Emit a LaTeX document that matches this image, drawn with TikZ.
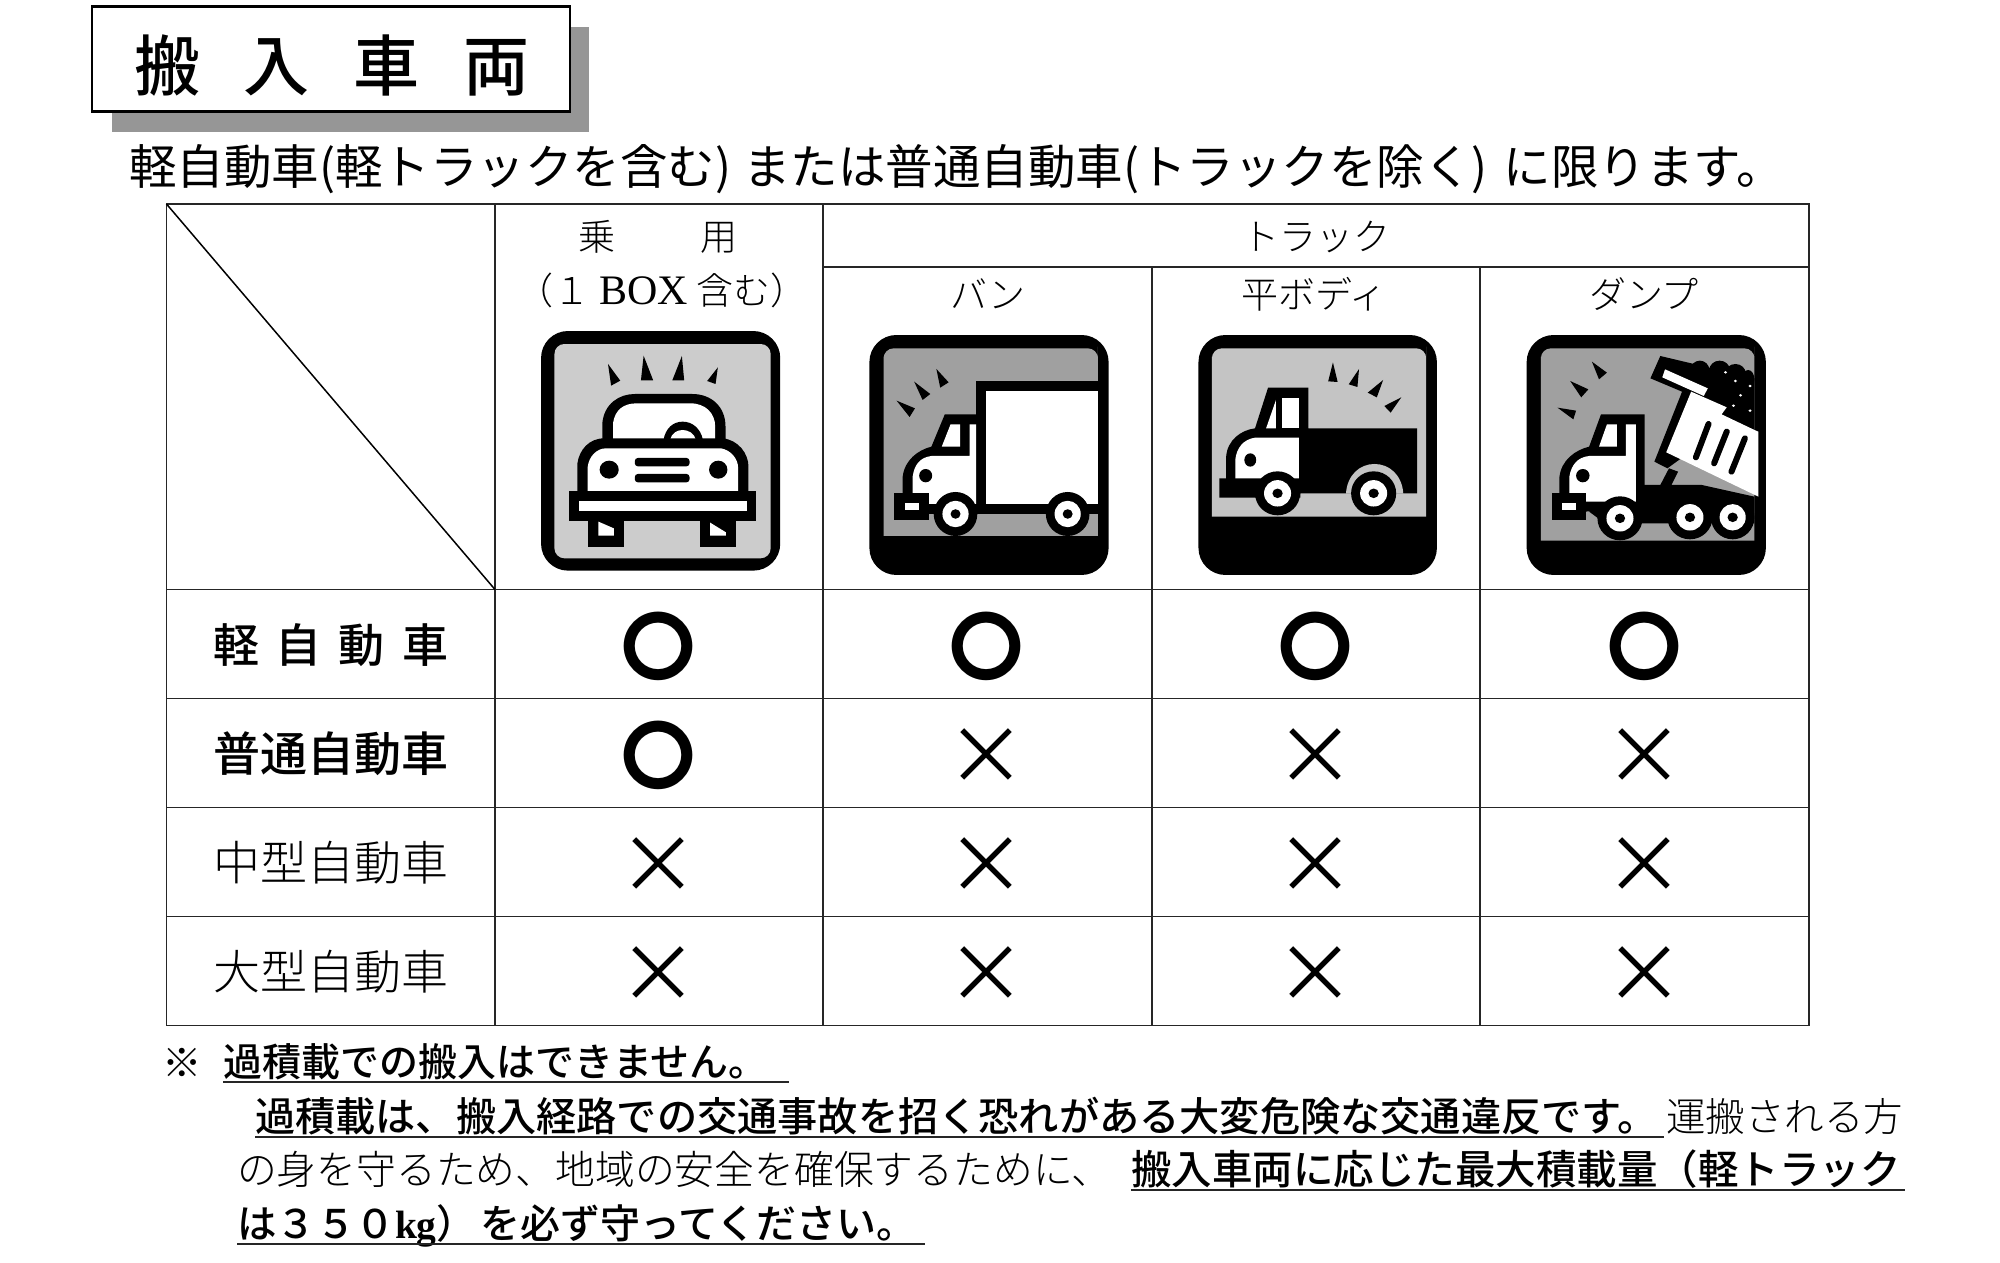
\documentclass[tikz,border=0pt]{standalone}
\usepackage{fontspec}
\newfontfamily\jp{Noto Sans CJK JP}
\newfontfamily\jpm{Noto Sans CJK JP Medium}
\newfontfamily\jpl{Noto Sans CJK JP Light}
\newfontfamily\lsf{Liberation Serif}
\newcommand{\jfs}[1]{\jp\fontsize{#1}{#1}\selectfont}
\newcommand{\jms}[1]{\jpm\fontsize{#1}{#1}\selectfont}
\newcommand{\jls}[1]{\jpl\fontsize{#1}{#1}\selectfont}
\definecolor{shadowgrey}{HTML}{969696}
\definecolor{carbg}{HTML}{CCCCCC}
\definecolor{vanbg}{HTML}{A0A0A0}
\definecolor{pickbg}{HTML}{C4C4C4}
\tikzset{
  txt/.style={inner sep=0pt,outer sep=0pt,anchor=base},
  txtw/.style={inner sep=0pt,outer sep=0pt,anchor=base west},
  gridline/.style={line width=1.8pt,draw=black!85},
  ul/.style={line width=2.4pt,draw=black!85},
  okmark/.style={inner sep=0pt,outer sep=0pt,anchor=center,yshift=-1pt,font=\jfs{74}\bfseries},
  ngmark/.style={inner sep=0pt,outer sep=0pt,anchor=center,yshift=-3pt,font=\jfs{80}},
}
\newcommand{\wheelat}[5]{% x y rx ry hub
  \fill[black] (#1,#2) ellipse [x radius=#3,y radius=#4];
  \fill[white] (#1,#2) ellipse [x radius=#3*0.6,y radius=#4*0.6];
  \fill[black] (#1,#2) ellipse [x radius=#5,y radius=#5*1.1];
}
\begin{document}
\begin{tikzpicture}[x=1pt,y=-1pt]
\useasboundingbox (0,0) rectangle (2000,1263);
\fill[white] (0,0) rectangle (2000,1263);
% title
\fill[shadowgrey] (112,27) rectangle (589,132);
\draw[line width=2.8pt,fill=white] (92,6.5) rectangle (570,111.5);
\node[txt,font=\jms{66}] (t1) at (167,90) {搬};
\node[txt,font=\jms{66}] (t2) at (276,90) {入};
\node[txt,font=\jms{66}] (t3) at (386,90) {車};
\node[txt,font=\jms{66}] (t4) at (496,90) {両};
% subtitle
\node[txtw,font=\jfs{47.5}] (sub) at (129,184) {軽自動車(軽トラックを含む)\hspace{12pt}または普通自動車(トラックを除く)\hspace{16pt}に限ります。};
% table
\draw[gridline] (166.5,204) rectangle (1809,1025.5);
\draw[gridline] (495,204) -- (495,1025.5);
\draw[gridline] (823,204) -- (823,1025.5);
\draw[gridline] (1152,267) -- (1152,1025.5);
\draw[gridline] (1480,267) -- (1480,1025.5);
\draw[gridline] (823,267) -- (1809,267);
\foreach \yy in {589.5,698.5,807.5,916.5} \draw[gridline] (166.5,\yy) -- (1809,\yy);
\draw[line width=1.5pt] (166.5,204) -- (495,589.5);
% header text
\node[txt,font=\jls{37}] (h1) at (658,250) {乗\hspace{85pt}用};
\node[txt,font=\jls{37}] (h2) at (662,304) {（１ {\lsf\fontsize{42}{42}\selectfont BOX} 含む）};
\node[txt,font=\jls{37}] (h3) at (1316,250) {トラック};
\node[txt,font=\jls{37}] (h4) at (988,308) {バン};
\node[txt,font=\jls{37}] (h5) at (1314,308) {平ボディ};
\node[txt,font=\jls{37}] (h6) at (1644,308) {ダンプ};
% row labels
\node[txt,font=\jms{46}] (r1a) at (236,662) {軽};
\node[txt,font=\jms{46}] (r1b) at (298,662) {自};
\node[txt,font=\jms{46}] (r1c) at (361,662) {動};
\node[txt,font=\jms{46}] (r1d) at (425,662) {車};
\node[txt,font=\jms{47}] (r2) at (331,771) {普通自動車};
\node[txt,font=\jls{47}] (r3) at (331,880) {中型自動車};
\node[txt,font=\jls{47}] (r4) at (331,989) {大型自動車};
% marks
\node[okmark] (m11) at (658,645.3) {〇};
\node[okmark] (m12) at (986.6,645.3) {〇};
\node[okmark] (m13) at (1315,645.3) {〇};
\node[okmark] (m14) at (1644,645.3) {〇};
\node[okmark] (m21) at (658,754) {〇};
\node[ngmark] (m22) at (986.6,754) {×};
\node[ngmark] (m23) at (1315,754) {×};
\node[ngmark] (m24) at (1644,754) {×};
\node[ngmark] (m31) at (658,862.5) {×};
\node[ngmark] (m32) at (986.6,862.5) {×};
\node[ngmark] (m33) at (1315,862.5) {×};
\node[ngmark] (m34) at (1644,862.5) {×};
\node[ngmark] (m41) at (658,971.5) {×};
\node[ngmark] (m42) at (986.6,971.5) {×};
\node[ngmark] (m43) at (1315,971.5) {×};
\node[ngmark] (m44) at (1644,971.5) {×};
% notes
\node[txt,font=\jls{39.5}] (n0) at (182,1077) {※};
\node[txtw,font=\jms{39}] (n1) at (223,1076) {過積載での搬入はできません。};
\draw[ul] (223,1082) -- (789,1082);
\node[txtw,font=\jms{40.2}] (n2) at (255,1131) {過積載は、搬入経路での交通事故を招く恐れがある大変危険な交通違反です。};
\draw[ul] (255,1137) -- (1664,1137);
\node[txtw,font=\jls{39.5}] (n2b) at (1666,1131) {運搬される方};
\node[txtw,font=\jls{39.8}] (n3) at (237,1184) {の身を守るため、地域の安全を確保するために、};
\node[txtw,font=\jms{40.5}] (n3b) at (1131,1184) {搬入車両に応じた最大積載量（軽トラック};
\draw[ul] (1131,1190) -- (1905,1190);
\node[txtw,font=\jms{39.5}] (n4) at (237,1238) {は３５０{\lsf\bfseries kg}）};
\node[txtw,font=\jms{40}] (n4b) at (480,1238) {を必ず守ってください。};
\draw[ul] (237,1244) -- (925,1244);

% ---- car + van icons (zoom 1 coordinates)
\begin{scope}[shift={(520,320)},x=0.3827pt,y=-0.3333pt]
 % car
 \fill[rounded corners=27pt] (55,33) rectangle (680,752);
 \fill[carbg,rounded corners=10pt] (90,72) rectangle (655,715);
 \fill (230,132) -- (238,197) -- (262,182) -- cycle;
 \fill (323,107) -- (316,181) -- (348,181) -- cycle;
 \fill (423,108) -- (398,181) -- (429,181) -- cycle;
 \fill (517,142) -- (489,183) -- (511,192) -- cycle;
 \fill (215,370) -- (215,310) .. controls (220,250) and (260,222) .. (300,222) -- (450,222) .. controls (500,222) and (537,260) .. (537,320) -- (537,370) -- cycle;
 \fill[white] (243,360) -- (243,310) .. controls (248,270) and (270,250) .. (305,250) -- (445,250) .. controls (485,250) and (510,280) .. (510,320) -- (510,360) -- cycle;
 \fill (375,360) .. controls (380,325) and (400,305) .. (425,305) .. controls (450,305) and (472,325) .. (478,360) -- cycle;
 \fill[white] (392,360) .. controls (396,340) and (410,330) .. (425,330) .. controls (440,330) and (455,340) .. (460,360) -- cycle;
 \fill (150,520) -- (150,430) .. controls (155,390) and (180,355) .. (220,355) -- (530,355) .. controls (570,360) and (597,400) .. (597,440) -- (597,520) -- cycle;
 \fill[white] (177,520) -- (177,440) .. controls (180,410) and (200,385) .. (225,385) -- (525,385) .. controls (550,390) and (570,415) .. (570,445) -- (570,520) -- cycle;
 \fill (233,449) ellipse [x radius=25,y radius=27];
 \fill (518,449) ellipse [x radius=24,y radius=27];
 \fill[rounded corners=3pt] (300,414) rectangle (443,439);
 \fill[rounded corners=3pt] (300,462) rectangle (443,487);
 \fill (128,512) rectangle (617,602);
 \fill[white] (153,543) rectangle (592,572);
 \fill (178,600) rectangle (272,680);
 \fill[white] (205,605) -- (245,625) -- (245,647) -- (205,647) -- cycle;
 \fill (470,600) rectangle (565,680);
 \fill[white] (497,608) -- (538,637) -- (538,647) -- (497,647) -- cycle;
 % van
 \fill[rounded corners=27pt] (913,45) rectangle (1538,765);
 \fill[vanbg,rounded corners=10pt] (950,648) [sharp corners] -- (950,110) [rounded corners=10pt] -- (950,85) -- (1510,85) -- (1510,110) [sharp corners] -- (1510,648) -- cycle;
 \fill (1088,147) -- (1098,203) -- (1120,187) -- cycle;
 \fill (1030,185) -- (1052,240) -- (1072,222) -- cycle;
 \fill (984,242) -- (1018,291) -- (1032,265) -- cycle;
 \fill (1192,183) rectangle (1510,582);
 \fill[white] (1218,213) rectangle (1510,552);
 \fill (1000,530) -- (1000,470) .. controls (1005,420) and (1040,390) .. (1075,380) -- (1110,283) -- (1200,283) -- (1200,582) -- (1060,582) -- cycle;
 \fill[white] (1125,313) -- (1150,313) -- (1150,380) -- (1102,380) -- cycle;
 \fill[white] (1026,525) -- (1026,470) .. controls (1030,435) and (1045,412) .. (1075,408) -- (1175,408) -- (1175,313) -- (1192,313) -- (1192,552) -- (1068,552) -- (1068,525) -- cycle;
 \fill (1060,467) ellipse [x radius=17,y radius=20];
 \fill (978,518) rectangle (1068,600);
 \fill[white] (1006,548) rectangle (1043,570);
 \wheelat{1138}{582}{57}{66}{13}
 \wheelat{1431}{582}{57}{66}{13}
\end{scope}

% ---- pickup + dump icons (zoom 2 coordinates)
\begin{scope}[shift={(1170,320)},x=0.3954pt,y=-0.3333pt]
 % pickup
 \fill[rounded corners=27pt] (72,45) rectangle (675,765);
 \fill[pickbg,rounded corners=10pt] (106,590) [sharp corners] -- (106,110) [rounded corners=10pt] -- (106,85) -- (648,85) -- (648,110) [sharp corners] -- (648,590) -- cycle;
 \fill (412,127) -- (400,184) -- (424,186) -- cycle;
 \fill (478,147) -- (452,193) -- (474,201) -- cycle;
 \fill (539,180) -- (500,218) -- (523,232) -- cycle;
 \fill (585,232) -- (542,258) -- (558,278) -- cycle;
 \fill (142,480) -- (142,410) .. controls (145,360) and (180,330) .. (215,325) -- (248,203) -- (350,203) -- (350,325) -- (625,325) -- (625,520) -- (330,520) -- (330,533) -- (125,533) -- (125,475) -- (142,475) -- cycle;
 \fill[white] (284,233) rectangle (326,325);
 \fill[white] (268,240) -- (268,325) -- (243,325) -- cycle;
 \fill[white] (165,475) -- (165,420) .. controls (168,385) and (185,358) .. (215,353) -- (326,353) -- (326,475) -- cycle;
 \fill (203,420) ellipse [x radius=15,y radius=20];
 \fill[pickbg] (445,521) .. controls (448,465) and (480,432) .. (517,432) .. controls (555,432) and (587,465) .. (590,521) -- cycle;
 \wheelat{272}{520}{57}{66}{13}
 \wheelat{515}{520}{57}{66}{13}
 % dump
 \fill[rounded corners=27pt] (902,45) rectangle (1507,765);
 \fill[vanbg,rounded corners=10pt] (938,662) [sharp corners] -- (938,110) [rounded corners=10pt] -- (938,85) -- (1478,85) -- (1478,110) [sharp corners] -- (1478,662) -- cycle;
 \fill (1067,125) -- (1085,178) -- (1105,158) -- cycle;
 \fill (1012,183) -- (1040,232) -- (1058,208) -- cycle;
 \fill (980,263) -- (1020,298) -- (1027,272) -- cycle;
 % chassis + arm
 \fill (1178,495) -- (1240,495) -- (1262,445) -- (1285,455) -- (1268,495) -- (1345,495) -- (1478,530) -- (1478,610) -- (1100,610) -- (1060,575) -- cycle;
 % cab
 \fill (985,530) -- (985,470) .. controls (990,420) and (1025,390) .. (1060,380) -- (1090,283) -- (1200,283) -- (1200,560) -- (1050,575) -- cycle;
 \fill[white] (1105,313) -- (1130,313) -- (1130,380) -- (1085,380) -- cycle;
 \fill[white] (1010,525) -- (1010,470) .. controls (1015,435) and (1030,412) .. (1060,408) -- (1153,408) -- (1153,313) -- (1178,313) -- (1178,545) -- (1052,545) -- (1052,525) -- cycle;
 \fill (1044,467) ellipse [x radius=17,y radius=20];
 \fill (966,518) rectangle (1052,600);
 \fill[white] (992,548) rectangle (1027,570);
 \wheelat{1138}{595}{57}{66}{13}
 \wheelat{1315}{592}{57}{66}{13}
 \wheelat{1423}{592}{55}{66}{13}
 \fill (1340,150) ellipse [x radius=24,y radius=28];
 \fill (1390,150) ellipse [x radius=26,y radius=28];
 \fill (1430,160) ellipse [x radius=26,y radius=28];
 \fill (1462,178) ellipse [x radius=16,y radius=28];
 % dump body
 \fill (1240,108) -- (1478,175) -- (1478,330) -- (1395,285) -- (1310,400) -- (1258,445) -- (1225,425) -- (1295,215) -- (1215,175) -- cycle;
 \fill[white] (1252,148) -- (1360,205) -- (1350,228) -- (1245,172) -- cycle;
 \fill[white] (1318,215) -- (1408,262) -- (1395,283) -- (1478,330) -- (1488,335) -- (1488,530) -- (1255,397) -- cycle;
 \draw[line width=6pt,line cap=round] (1362,312) -- (1330,412);
 \draw[line width=6pt,line cap=round] (1408,335) -- (1376,430);
 \draw[line width=6pt,line cap=round] (1454,355) -- (1420,455);
 \foreach \px/\py in {1405/157,1430/183,1467/198,1443/226,1425/257,1467/272}
   \fill[white] (\px,\py) circle [radius=4];
\end{scope}
\end{tikzpicture}
\end{document}
